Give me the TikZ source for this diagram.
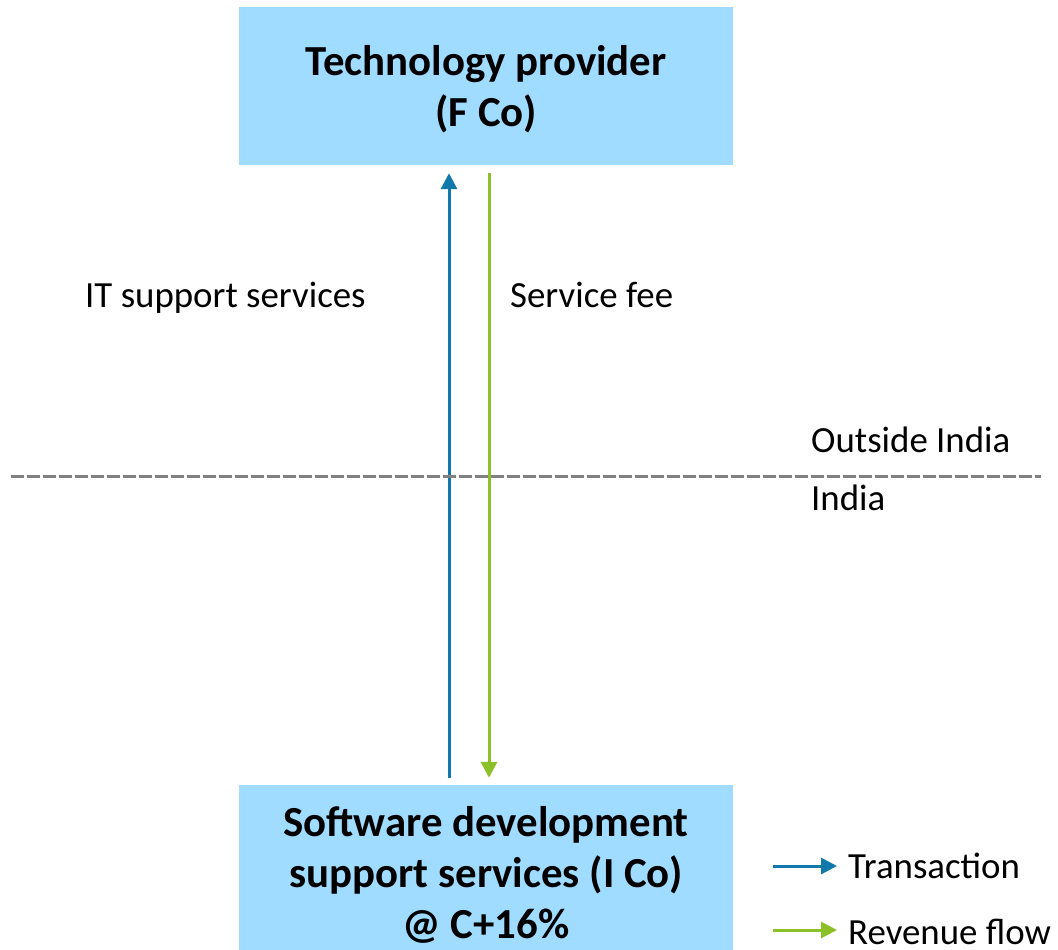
\documentclass[tikz,border=0pt]{standalone}
\usepackage{fontspec}
\setmainfont{Carlito}
\usetikzlibrary{arrows.meta}
\definecolor{boxblue}{RGB}{160,220,255}
\definecolor{txblue}{RGB}{16,120,170}
\definecolor{revgreen}{RGB}{140,192,40}
\definecolor{divgray}{RGB}{128,128,128}
\begin{document}
\begin{tikzpicture}[x=1bp,y=-1bp,
  entity/.style={fill=boxblue, draw=none, minimum width=494bp, inner sep=0pt},
  entitytext/.style={align=center, inner sep=0pt, font=\fontsize{43}{51}\selectfont\bfseries},
  lbl/.style={anchor=base west, inner sep=0pt, font=\fontsize{37}{44}\selectfont},
  flow/.style={line width=3bp, -{Triangle[width=16bp,length=16bp]}},
  transflow/.style={flow, draw=txblue},
  revflow/.style={flow, draw=revgreen},
  divider/.style={draw=divgray, line width=3bp, dash pattern=on 13bp off 3bp}]
\useasboundingbox (0,0) rectangle (1058,950);

% entities
\node[entity, minimum height=158bp] (fco) at (486,86) {};
\node[entitytext, yshift=-3bp] (fcot) at (fco.center) {Technology provider\\(F Co)};
\node[entity, minimum height=176bp] (ico) at (486,873) {};
\node[entitytext, yshift=-2bp] (icot) at (ico.center)
  {Software development\\support services (I Co)\\@ C+16\%};

% flows between the entities
\coordinate (xt) at (449,0);
\coordinate (xr) at (489,0);
\draw[transflow, shorten <=7bp, shorten >=8bp] (xt |- ico.north) -- (xt |- fco.south);
\draw[revflow, shorten <=8bp, shorten >=7bp] (xr |- fco.south) -- (xr |- ico.north);
\node[lbl] (itss) at (85,307) {IT support services};
\node[lbl] (fee) at (510,307) {Service fee};

% border between the jurisdictions
\coordinate (dl) at (11,476);
\coordinate (dr) at (1041,476);
\draw[divider] (dl) -- (dr);
\node[lbl] (outside) at (811,452) {Outside India};
\node[lbl] (inside) at (811,510) {India};

% legend
\coordinate (l1a) at (773,866);
\coordinate (l1b) at (837,866);
\coordinate (l2a) at (773,930);
\coordinate (l2b) at (837,930);
\draw[transflow] (l1a) -- (l1b);
\draw[revflow] (l2a) -- (l2b);
\node[lbl] (legt) at (848,878) {Transaction};
\node[lbl] (legr) at (848,944) {Revenue flow};
\end{tikzpicture}
\end{document}
